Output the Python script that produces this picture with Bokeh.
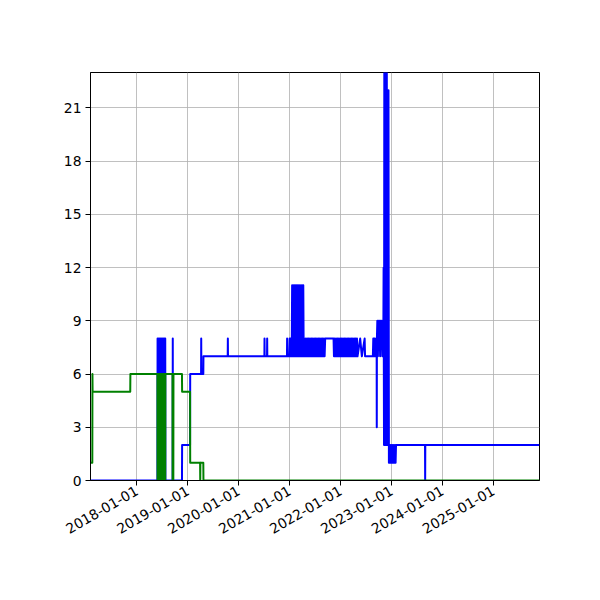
import math
import pandas as pd
from bokeh.plotting import figure
from bokeh.models import Range1d, FixedTicker, DatetimeTickFormatter, SingleIntervalTicker
from bokeh.embed import file_html
from bokeh.resources import INLINE

# blue series (line vertices)
blue_dates = [
    "2017-02-02", "2018-05-28",
    "2018-05-29", "2018-06-01", "2018-06-05", "2018-06-08", "2018-06-12", "2018-06-15",
    "2018-06-19", "2018-06-22", "2018-06-26", "2018-06-29", "2018-07-03", "2018-07-06",
    "2018-07-10", "2018-07-13", "2018-07-17", "2018-07-20", "2018-07-23", "2018-07-24",
    "2018-09-14", "2018-09-15", "2018-09-16",
    "2018-11-20", "2018-11-21", "2019-01-17", "2019-01-18",
    "2019-04-06", "2019-04-07", "2019-04-08", "2019-04-22", "2019-04-23",
    "2019-10-14", "2019-10-15", "2019-10-16",
    "2020-07-03", "2020-07-04", "2020-07-05",
    "2020-07-22", "2020-07-23", "2020-07-24",
    "2020-12-12", "2020-12-13", "2020-12-14",
    "2020-12-28", "2020-12-31", "2021-01-03", "2021-01-06", "2021-01-09", "2021-01-12", "2021-01-15",
    "2021-01-18", "2021-01-22", "2021-01-26", "2021-01-30", "2021-02-03", "2021-02-07",
    "2021-02-11", "2021-02-15", "2021-02-19", "2021-02-23", "2021-02-27", "2021-03-03",
    "2021-03-07", "2021-03-11", "2021-03-15", "2021-03-19", "2021-03-23", "2021-03-27",
    "2021-03-31", "2021-04-04", "2021-04-08", "2021-04-11",
    "2021-04-16", "2021-04-21", "2021-04-26", "2021-05-01", "2021-05-06", "2021-05-11",
    "2021-05-16", "2021-05-21", "2021-05-26", "2021-05-31", "2021-06-05", "2021-06-10",
    "2021-06-15", "2021-06-20", "2021-06-25", "2021-06-30", "2021-07-05", "2021-07-10",
    "2021-07-15", "2021-07-20", "2021-07-25", "2021-07-30", "2021-08-04", "2021-08-09",
    "2021-08-14", "2021-08-19", "2021-08-24", "2021-08-29", "2021-09-03", "2021-09-08",
    "2021-09-12", "2021-11-11",
    "2021-11-14", "2021-11-19", "2021-11-24", "2021-11-29", "2021-12-04", "2021-12-09",
    "2021-12-14", "2021-12-19", "2021-12-24", "2021-12-29", "2022-01-03", "2022-01-08",
    "2022-01-13", "2022-01-18", "2022-01-23", "2022-01-28", "2022-02-02", "2022-02-07",
    "2022-02-12", "2022-02-17", "2022-02-22", "2022-02-27", "2022-03-04", "2022-03-09",
    "2022-03-14", "2022-03-19", "2022-03-24", "2022-03-29", "2022-04-03", "2022-04-08",
    "2022-04-13", "2022-04-18", "2022-04-23", "2022-04-28", "2022-05-02",
    "2022-05-21", "2022-06-02", "2022-06-22", "2022-06-25", "2022-08-20",
    "2022-08-23", "2022-08-26", "2022-08-29", "2022-09-01", "2022-09-04", "2022-09-07",
    "2022-09-16", "2022-09-17", "2022-09-18",
    "2022-09-21", "2022-09-25", "2022-09-29", "2022-10-03", "2022-10-07", "2022-10-11",
    "2022-10-15", "2022-10-19", "2022-10-23", "2022-10-27", "2022-10-31", "2022-11-03",
    "2022-11-05", "2022-11-08", "2022-11-10", "2022-11-13", "2022-11-16", "2022-11-19",
    "2022-11-22", "2022-11-25", "2022-11-28", "2022-12-01", "2022-12-04", "2022-12-07",
    "2022-12-10", "2022-12-13", "2022-12-17", "2022-12-21", "2022-12-25", "2022-12-29",
    "2023-01-02", "2023-01-06", "2023-01-10", "2023-01-14", "2023-01-18", "2023-01-22",
    "2023-01-26", "2023-01-30", "2023-02-02",
    "2023-08-29", "2023-08-30", "2023-08-31", "2025-11-27",
]
blue_vals = [
    0, 0,
    8, 0, 8, 0, 8, 0,
    8, 0, 8, 0, 8, 0,
    8, 0, 8, 0, 8, 0,
    0, 8, 0,
    0, 2, 2, 6,
    6, 8, 6, 6, 7,
    7, 8, 7,
    7, 8, 7,
    7, 8, 7,
    7, 8, 7,
    7, 8, 7, 8, 7, 8, 7,
    11, 7, 11, 7, 11, 7,
    11, 7, 11, 7, 11, 7,
    11, 7, 11, 7, 11, 7,
    11, 7, 11, 7,
    8, 7, 8, 7, 8, 7,
    8, 7, 8, 7, 8, 7,
    8, 7, 8, 7, 8, 7,
    8, 7, 8, 7, 8, 7,
    8, 7, 8, 7, 8, 7,
    8, 8,
    7, 8, 7, 8, 7, 8,
    7, 8, 7, 8, 7, 8,
    7, 8, 7, 8, 7, 8,
    7, 8, 7, 8, 7, 8,
    7, 8, 7, 8, 7, 8,
    7, 8, 7, 8, 7,
    8, 7, 8, 7, 7,
    8, 7, 8, 7, 8, 7,
    8, 3, 8,
    9, 7, 9, 8, 9, 7,
    9, 8, 9, 7, 9, 8,
    12, 2, 23, 2, 23, 2,
    23, 2, 23, 2, 22, 2,
    22, 1, 2, 1, 2, 1,
    2, 1, 2, 1, 2, 1,
    2, 1, 2,
    2, 0, 2, 2,
]

# green series
green_dates = [
    "2017-02-02", "2017-02-15", "2017-02-16", "2017-02-17", "2017-11-14", "2017-11-15", "2018-05-28",
    "2018-05-29", "2018-06-01", "2018-06-05", "2018-06-08", "2018-06-12", "2018-06-15",
    "2018-06-19", "2018-06-22", "2018-06-26", "2018-06-29", "2018-07-03", "2018-07-06",
    "2018-07-10", "2018-07-13", "2018-07-17", "2018-07-20", "2018-07-23", "2018-07-24",
    "2018-09-13", "2018-09-14", "2018-09-19", "2018-09-20",
    "2018-11-20", "2018-11-21", "2019-01-17", "2019-01-18",
    "2019-03-30", "2019-03-31", "2019-04-01", "2019-04-22", "2019-04-23", "2025-11-27",
]
green_vals = [
    1, 1, 6, 5, 5, 6, 6,
    0, 6, 0, 6, 0, 6,
    0, 6, 0, 6, 0, 6,
    0, 6, 0, 6, 0, 6,
    6, 0, 0, 6,
    6, 5, 5, 1,
    1, 0, 1, 1, 0, 0,
]

tick_years = [2018, 2019, 2020, 2021, 2022, 2023, 2024, 2025]
x_start, x_end = "2017-02-02", "2025-11-27"

p = figure(x_axis_type="datetime", output_backend="svg", toolbar_location=None,
           frame_width=449, frame_height=408,
           min_border_left=90, min_border_right=53, min_border_top=72, min_border_bottom=112,
           x_range=Range1d(pd.Timestamp(x_start), pd.Timestamp(x_end)),
           y_range=Range1d(0, 23))

p.line(pd.to_datetime(blue_dates), blue_vals, line_color="#0000ff", line_width=2, line_join="round")
p.line(pd.to_datetime(green_dates), green_vals, line_color="#008000", line_width=2, line_join="round")

p.xaxis.ticker = FixedTicker(ticks=[pd.Timestamp(f"{y}-01-01").timestamp() * 1000 for y in tick_years])
p.xaxis.formatter = DatetimeTickFormatter(years="%Y-%m-%d", months="%Y-%m-%d", days="%Y-%m-%d")
p.xaxis.major_label_orientation = math.pi / 6
p.yaxis.ticker = SingleIntervalTicker(interval=3, num_minor_ticks=0)

for ax in (p.xaxis, p.yaxis):
    ax.major_label_text_font = "DejaVu Sans"
    ax.major_label_text_font_size = "13.9px"
    ax.major_label_text_color = "black"
    ax.axis_line_color = "black"
    ax.major_tick_line_color = "black"
    ax.major_tick_out = 5
    ax.major_tick_in = 0
    ax.minor_tick_line_color = None
    ax.major_label_standoff = 4

p.grid.grid_line_color = "#b0b0b0"
p.grid.grid_line_width = 0.8
p.outline_line_color = "black"
p.outline_line_width = 1
p.outline_line_alpha = 1

open("out.html", "w").write(file_html(p, INLINE))
